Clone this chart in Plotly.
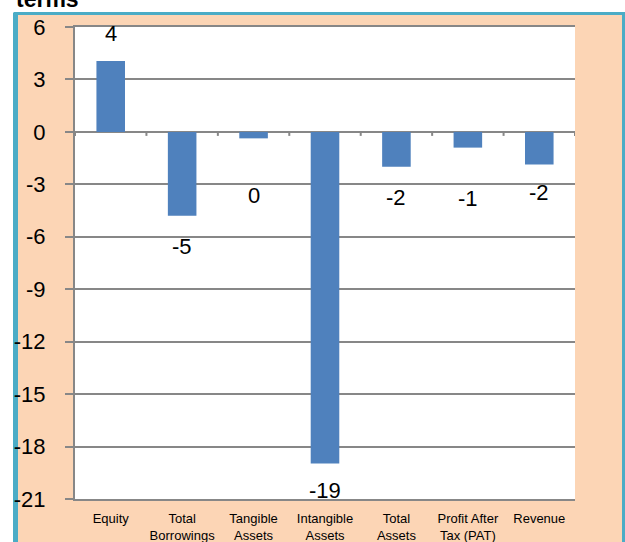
import plotly.graph_objects as go

categories = ["Equity", "Total<br>Borrowings", "Tangible<br>Assets", "Intangible<br>Assets",
              "Total<br>Assets", "Profit After<br>Tax (PAT)", "Revenue"]
values = [4.05, -4.8, -0.37, -18.97, -2.0, -0.9, -1.86]
label_texts = ["4", "-5", "0", "-19", "-2", "-1", "-2"]
y_ticks = [6, 3, 0, -3, -6, -9, -12, -15, -18, -21]

# pixel offsets of the value labels from bar ends (style only)
label_offsets = [28, 31, 57, 27, 31, 51, 28]

FONT = "Liberation Sans, Arial, sans-serif"
PEACH = "#FCD5B5"
BLUE = "#4BACC6"
GRID = "#878787"
BAR = "#4F81BD"

W, H = 625, 542
ML, MR, MT, MB = 75, 50, 27, 43
PW, PH = W - ML - MR, H - MT - MB

def px_x(p):
    return (p - ML) / PW

def px_y(p):
    return 1 - (p - MT) / PH

fig = go.Figure()
fig.add_trace(go.Bar(
    x=list(range(len(categories))), y=values, marker=dict(color=BAR, line=dict(width=0)),
    width=0.4, hoverinfo="skip", showlegend=False,
))

annotations = []
for i, (v, t, off) in enumerate(zip(values, label_texts, label_offsets)):
    annotations.append(dict(
        x=i, y=v, xref="x", yref="y", text=t, showarrow=False,
        yanchor="middle", xanchor="center", yshift=off if v > 0 else -off,
        font=dict(family=FONT, size=22, color="black"),
    ))
annotations.append(dict(
    x=px_x(14), y=1, xref="paper", yref="paper", text="<b>terms</b>", showarrow=False,
    xanchor="left", yanchor="bottom", yshift=13,
    font=dict(family=FONT, size=23, color="black"),
))

shapes = [
    dict(type="rect", xref="paper", yref="paper", layer="below",
         x0=px_x(15), x1=px_x(623.5), y0=px_y(13.5), y1=px_y(560),
         fillcolor=PEACH, line=dict(color=BLUE, width=3)),
    dict(type="line", xref="paper", yref="paper", layer="below",
         x0=px_x(15.5), x1=px_x(15.5), y0=px_y(13), y1=px_y(560),
         line=dict(color=BLUE, width=5)),
    dict(type="rect", xref="paper", yref="paper", layer="below",
         x0=0, x1=1, y0=0, y1=1, fillcolor="white", line=dict(width=0)),
]
for k in range(len(categories) + 1):
    shapes.append(dict(type="line", xref="x", yref="y", ysizemode="pixel", yanchor=0,
                       x0=k - 0.5, x1=k - 0.5, y0=0, y1=-4,
                       line=dict(color=GRID, width=2)))

fig.update_layout(
    width=W, height=H,
    margin=dict(l=ML, r=MR, t=MT, b=MB, autoexpand=False),
    paper_bgcolor="white", plot_bgcolor="white",
    xaxis=dict(
        range=[-0.5, len(categories) - 0.5], automargin=False,
        tickmode="array", tickvals=list(range(len(categories))), ticktext=categories,
        tickfont=dict(family=FONT, size=13, color="black"),
        showgrid=False, zeroline=False, ticks="", showline=True, mirror=True,
        linecolor=GRID, linewidth=2, ticklabelstandoff=6, fixedrange=True,
    ),
    yaxis=dict(
        range=[-21, 6], tickmode="array", tickvals=y_ticks, automargin=False,
        ticktext=[str(t) for t in y_ticks],
        tickfont=dict(family=FONT, size=22, color="black"),
        showgrid=True, gridcolor=GRID, gridwidth=2,
        zeroline=True, zerolinecolor=GRID, zerolinewidth=2,
        showline=True, linecolor=GRID, linewidth=2,
        ticks="outside", ticklen=8, tickcolor=GRID, tickwidth=2,
        ticklabelstandoff=15, fixedrange=True,
    ),
    annotations=annotations,
    shapes=shapes,
)

fig.write_html("out.html", config={"displayModeBar": False},
               post_script="document.body.style.margin='0';")
